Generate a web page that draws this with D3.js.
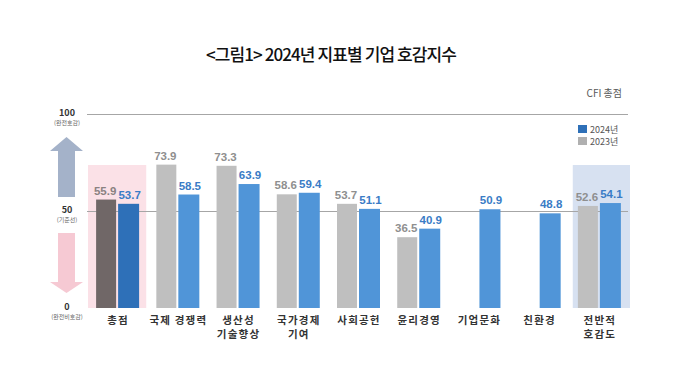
<!DOCTYPE html>
<html><head><meta charset="utf-8">
<script src="https://cdn.jsdelivr.net/npm/d3@7"></script>
<style>
html,body{margin:0;padding:0;background:#fff;}
svg{display:block;font-family:"Noto Sans CJK KR","Noto Sans",sans-serif;}
</style></head>
<body><svg id="chart" width="680" height="366"></svg>
<script>
const categories = ["총점","국제 경쟁력","생산성\n기술향상","국가경제\n기여","사회공헌","윤리경영","기업문화","친환경","전반적\n호감도"];
const values2023 = [55.9, 73.9, 73.3, 58.6, 53.7, 36.5, null, null, 52.6];
const values2024 = [53.7, 58.5, 63.9, 59.4, 51.1, 40.9, 50.9, 48.8, 54.1];
const yTicks = [100, 50, 0];
const yTickNotes = ["(완전호감)", "(기준선)", "(완전비호감)"];
const seriesNames = ["2024년", "2023년"];
const titleText = "<그림1> 2024년 지표별 기업 호감지수";
const unitText = "CFI 총점";

const svg = d3.select("#chart");
const x = d3.scaleBand().domain(categories).range([87, 629]).padding(0);
const y = d3.scaleLinear().domain([0, 100]).range([308, 114]);
const cx = c => x(c) + x.bandwidth() / 2;

// title
svg.append("text").attr("x", 331).attr("y", 61).attr("text-anchor", "middle")
  .attr("font-size", 17).attr("font-weight", 500).attr("letter-spacing", -0.9).attr("fill", "#111")
  .text(titleText);

// unit
svg.append("text").attr("x", 622).attr("y", 97).attr("text-anchor", "end")
  .attr("font-size", 10).attr("fill", "#595959").text(unitText);

// highlight boxes
svg.append("rect").attr("x", x(categories[0]) + 1).attr("width", x.bandwidth() - 2)
  .attr("y", y(73.7)).attr("height", y(0) - y(73.7)).attr("fill", "#fbe1e7");
svg.append("rect").attr("x", x(categories[8]) + 4).attr("width", x.bandwidth() - 3)
  .attr("y", y(73.7)).attr("height", y(0) - y(73.7)).attr("fill", "#d7e1f1");

// grid lines at 100 and 50
[100, 50].forEach(v => {
  svg.append("line").attr("x1", 87).attr("x2", 628).attr("y1", y(v) + 0.5).attr("y2", y(v) + 0.5)
    .attr("stroke", "#a6a6a6").attr("stroke-width", 1.2);
});

// left axis labels
yTicks.forEach((v, i) => {
  svg.append("text").attr("x", 67).attr("y", y(v) + 2).attr("text-anchor", "middle")
    .attr("font-size", 9).attr("font-weight", "bold").attr("fill", "#333").text(v);
  svg.append("text").attr("x", 67).attr("y", y(v) + 11).attr("text-anchor", "middle")
    .attr("font-size", 6).attr("fill", "#666").text(yTickNotes[i]);
});

// arrows
function arrow(tipV, headV, tailV, color) {
  const ax = 66.5;
  const pts = [
    [ax, y(tipV)], [ax + 16.5, y(headV)], [ax + 8.5, y(headV)], [ax + 8.5, y(tailV)],
    [ax - 8.5, y(tailV)], [ax - 8.5, y(headV)], [ax - 16.5, y(headV)]
  ];
  svg.append("polygon").attr("points", pts.map(p => p.join(",")).join(" ")).attr("fill", color);
}
arrow(88.2, 80.9, 57.2, "#a4b2c9");
arrow(7.7, 13.4, 38.7, "#f6c9d3");

// bars
const g = svg.append("g");
categories.forEach((c, i) => {
  const v3 = values2023[i], v4 = values2024[i];
  const c0 = cx(c);
  if (v3 != null) {
    g.append("rect").attr("x", c0 - 21).attr("width", 20)
      .attr("y", y(v3)).attr("height", y(0) - y(v3))
      .attr("fill", i === 0 ? "#706767" : "#bfbfbf");
    g.append("text").attr("x", c0 - 12).attr("y", y(v3) - 5).attr("text-anchor", "middle")
      .attr("font-family", "Arial, 'Liberation Sans', sans-serif")
      .attr("font-size", 11.5).attr("font-weight", 600)
      .attr("fill", i === 0 ? "#8a8282" : "#8f8f8f").text(v3.toFixed(1));
  }
  if (v4 != null) {
    g.append("rect").attr("x", c0 + 1).attr("width", 21)
      .attr("y", y(v4)).attr("height", y(0) - y(v4))
      .attr("fill", i === 0 ? "#2e70b8" : "#5095d8");
    g.append("text").attr("x", c0 + 12.5).attr("y", y(v4) - 5).attr("text-anchor", "middle")
      .attr("font-family", "Arial, 'Liberation Sans', sans-serif")
      .attr("font-size", 11.5).attr("font-weight", "bold")
      .attr("fill", "#3a7cc6").text(v4.toFixed(1));
  }
  const lines = c.split("\n");
  lines.forEach((ln, j) => {
    svg.append("text").attr("x", c0 + 1).attr("y", 323.5 + j * 14.5).attr("text-anchor", "middle")
      .attr("font-size", 10.5).attr("font-weight", "bold").attr("letter-spacing", 1.2)
      .attr("fill", "#333").text(ln);
  });
});

// legend
const legColors = ["#2e70b8", "#b0b0b0"];
seriesNames.forEach((s, i) => {
  svg.append("rect").attr("x", 578).attr("y", 125 + i * 12).attr("width", 9).attr("height", 8)
    .attr("fill", legColors[i]);
  svg.append("text").attr("x", 590).attr("y", 132.5 + i * 12)
    .attr("font-size", 9).attr("fill", "#555").attr("letter-spacing", 0).text(s);
});
</script></body></html>
